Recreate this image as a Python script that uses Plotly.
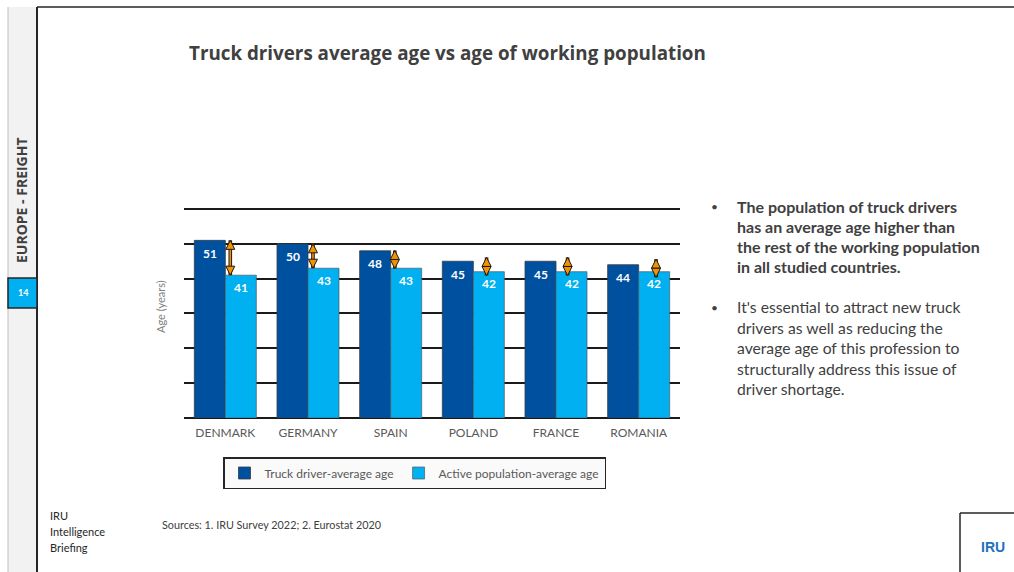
import plotly.graph_objects as go

# ---------------- data ----------------
countries = ["DENMARK", "GERMANY", "SPAIN", "POLAND", "FRANCE", "ROMANIA"]
truck_age = [51, 50, 48, 45, 45, 44]
active_age = [41, 43, 43, 42, 42, 42]
series_names = ["Truck driver-average age", "Active population-average age"]
title_text = "Truck drivers average age vs age of working population"
bullet_bold = ["The population of truck drivers", "has an average age higher than",
               "the rest of the working population", "in all studied countries."]
bullet_normal = ["It's essential to attract new truck", "drivers as well as reducing the",
                 "average age of this profession to", "structurally address this issue of",
                 "driver shortage."]

# ---------------- style / layout ----------------
W, H = 1014, 572
FONT = "Lato"
FONT2 = "Open Sans"
DARK = "#0050A0"
LIGHT = "#00B0F0"
ORANGE = "#F39200"
arrow_offsets = [0.06, 0.06, 0.05, 0.16, 0.14, 0.21]
ARROW_MIN_HALF = 2.6  # minimum half-length of a gap arrow (axis units) so heads stay visible
Y_MAX = 61            # axis range top (gridline at 60 stays inside)
PX_PER_UNIT = 209 / 60


def px(x):
    return x / W


def py(y):
    return 1 - y / H


xs = list(range(len(countries)))
fig = go.Figure()
fig.add_trace(go.Bar(x=xs, y=truck_age, name=series_names[0],
                     marker=dict(color=DARK, line=dict(color="rgba(50,60,70,0.8)", width=1))))
fig.add_trace(go.Bar(x=xs, y=active_age, name=series_names[1],
                     marker=dict(color=LIGHT, line=dict(color="rgba(80,90,100,0.7)", width=1))))

# difference arrows: shaft (black outline + orange core) and heads
ax_x, ax_y, head_x, head_top, head_bot = [], [], [], [], []
for i in xs:
    xa = i + arrow_offsets[i]
    mid = (truck_age[i] + active_age[i]) / 2
    half = max((truck_age[i] - active_age[i]) / 2, ARROW_MIN_HALF)
    ax_x += [xa, xa, None]
    ax_y += [mid + half, mid - half, None]
    head_x.append(xa)
    head_top.append(mid + half)
    head_bot.append(mid - half)
for col, w in (("#1a1a1a", 3.6), (ORANGE, 1.6)):
    fig.add_trace(go.Scatter(x=ax_x, y=ax_y, mode="lines", line=dict(color=col, width=w),
                             showlegend=False, hoverinfo="skip"))
head_sym = ["arrow-up"] * len(xs) + ["arrow-down"] * len(xs)
fig.add_trace(go.Scatter(x=head_x * 2, y=head_top + head_bot, mode="markers", showlegend=False,
                         hoverinfo="skip",
                         marker=dict(symbol=head_sym, size=9, color=ORANGE,
                                     line=dict(color="#1a1a1a", width=1))))

ann = []
# data labels
for i in xs:
    ann.append(dict(x=i - 0.1875, y=truck_age[i], xref="x", yref="y", text=f"<b>{truck_age[i]}</b>",
                    showarrow=False, yanchor="middle", yshift=-13,
                    font=dict(family=FONT, size=12, color="white")))
    ann.append(dict(x=i + 0.1875, y=active_age[i], xref="x", yref="y", text=f"<b>{active_age[i]}</b>",
                    showarrow=False, yanchor="middle", yshift=-12,
                    font=dict(family=FONT, size=12, color="white")))

# text blocks
ann.append(dict(x=px(187), y=py(53), xref="paper", yref="paper", xanchor="left", yanchor="middle",
                text=f"<b>{title_text}</b>", showarrow=False,
                font=dict(family=FONT2, size=18.8, color="#404040")))
ann.append(dict(x=px(22), y=py(200), xref="paper", yref="paper", xanchor="center", yanchor="middle",
                text="<b>EUROPE - FREIGHT</b>", textangle=-90, showarrow=False,
                font=dict(family=FONT2, size=14, color="#404040")))
ann.append(dict(x=px(22.5), y=py(293), xref="paper", yref="paper", xanchor="center", yanchor="middle",
                text="<b>14</b>", showarrow=False, font=dict(family=FONT, size=9, color="white")))
ann.append(dict(x=px(160), y=py(307), xref="paper", yref="paper", xanchor="center", yanchor="middle",
                text="Age (years)", textangle=-90, showarrow=False,
                font=dict(family=FONT, size=11, color="#7f7f7f")))
for k, line in enumerate(bullet_bold):
    ann.append(dict(x=px(735), y=py(206 + k * 20.3), xref="paper", yref="paper", xanchor="left",
                    yanchor="middle", text=f"<b>{line}</b>", showarrow=False,
                    font=dict(family=FONT, size=16, color="#404040")))
for k, line in enumerate(bullet_normal):
    ann.append(dict(x=px(735), y=py(307 + k * 20.5), xref="paper", yref="paper", xanchor="left",
                    yanchor="middle", text=line, showarrow=False,
                    font=dict(family=FONT, size=15.7, color="#404040")))
for yb in (206, 307):
    ann.append(dict(x=px(714), y=py(yb), xref="paper", yref="paper", xanchor="center",
                    yanchor="middle", text="•", showarrow=False,
                    font=dict(family=FONT, size=12, color="#404040")))
for k, line in enumerate(["IRU", "Intelligence", "Briefing"]):
    ann.append(dict(x=px(48), y=py(515 + k * 16), xref="paper", yref="paper", xanchor="left",
                    yanchor="middle", text=line, showarrow=False,
                    font=dict(family=FONT, size=11, color="#262626")))
ann.append(dict(x=px(160), y=py(524), xref="paper", yref="paper", xanchor="left", yanchor="middle",
                text="Sources: 1. IRU Survey 2022; 2. Eurostat 2020", showarrow=False,
                font=dict(family=FONT, size=10.8, color="#404040")))
ann.append(dict(x=px(993), y=py(547), xref="paper", yref="paper", xanchor="center", yanchor="middle",
                text="<b>IRU</b>", showarrow=False,
                font=dict(family="Liberation Sans Narrow, Liberation Sans", size=14, color="#1F6FC0")))

shapes = [
    dict(type="rect", xref="paper", yref="paper", x0=px(8), x1=px(37), y0=0, y1=py(7),
         fillcolor="#F2F2F2", line=dict(width=0), layer="below"),
    dict(type="line", xref="paper", yref="paper", x0=px(8), x1=px(8), y0=0, y1=py(7),
         line=dict(color="#BFBFBF", width=1)),
    dict(type="line", xref="paper", yref="paper", x0=px(37), x1=px(37), y0=0, y1=py(7),
         line=dict(color="#262626", width=2)),
    dict(type="line", xref="paper", yref="paper", x0=px(37), x1=1, y0=py(7), y1=py(7),
         line=dict(color="#262626", width=1.5)),
    dict(type="rect", xref="paper", yref="paper", x0=px(8), x1=px(37), y0=py(308), y1=py(278),
         fillcolor="#00B0F0", line=dict(color="#262626", width=1.5)),
    dict(type="line", xref="paper", yref="paper", x0=px(960), x1=px(960), y0=0, y1=py(513),
         line=dict(color="#262626", width=1.5)),
    dict(type="line", xref="paper", yref="paper", x0=px(960), x1=1, y0=py(513), y1=py(513),
         line=dict(color="#262626", width=1.5)),
]

fig.update_layout(
    width=W, height=H, autosize=False,
    margin=dict(l=0, r=0, t=0, b=0),
    paper_bgcolor="white", plot_bgcolor="white",
    barmode="group", bargap=0.25, bargroupgap=0,
    font=dict(family=FONT, color="#595959"),
    xaxis=dict(domain=[px(184), px(680)], range=[-0.5, 5.5], tickvals=xs, ticktext=countries,
               showgrid=False, showline=False, zeroline=False, ticks="", ticklabelstandoff=6,
               tickfont=dict(family=FONT, size=12, color="#595959"), fixedrange=True),
    yaxis=dict(domain=[py(418), py(418 - Y_MAX * PX_PER_UNIT)], range=[0, Y_MAX],
               tickvals=[10, 20, 30, 40, 50, 60],
               showgrid=True, gridcolor="#1a1a1a", gridwidth=1.5, zeroline=True,
               zerolinecolor="#1a1a1a", zerolinewidth=2, showticklabels=False, ticks="",
               fixedrange=True),
    showlegend=True,
    legend=dict(orientation="h", x=px(223), y=py(457), xanchor="left", yanchor="top",
                bgcolor="#FAFAFA", bordercolor="#262626", borderwidth=1.5,
                font=dict(family=FONT, size=12, color="#595959"), itemwidth=30,
                traceorder="normal"),
    annotations=ann, shapes=shapes,
)

fig.write_html("out.html")
